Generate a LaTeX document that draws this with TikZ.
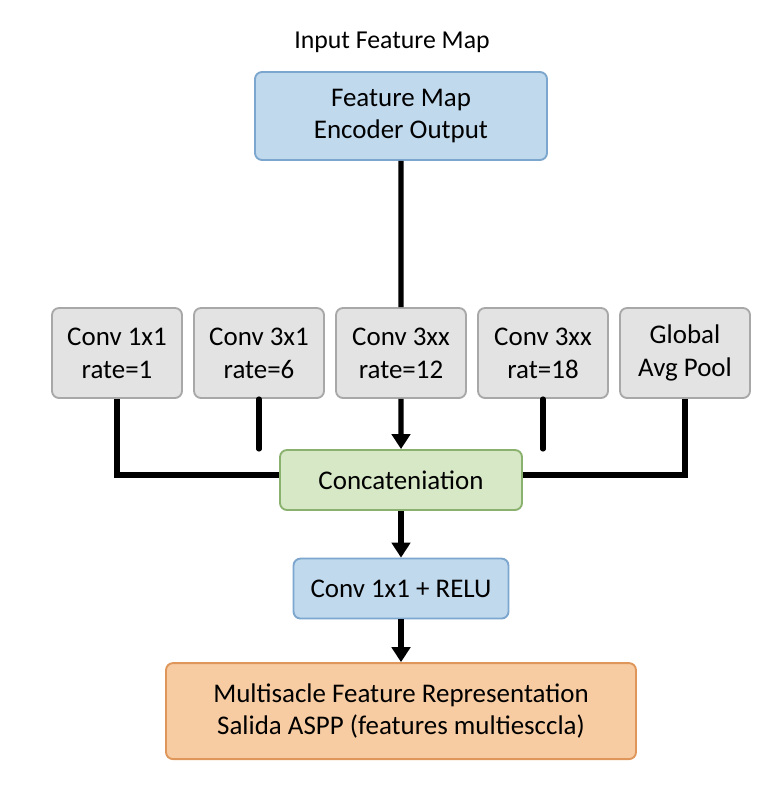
\documentclass[tikz,border=0pt]{standalone}
\usepackage{fontspec}
\setmainfont{Carlito}
\usepackage{tikz}
\usetikzlibrary{positioning, calc, arrows.meta}

\definecolor{mapfill}{RGB}{192,217,237}
\definecolor{mapdraw}{RGB}{125,166,206}
\definecolor{convfill}{RGB}{227,227,227}
\definecolor{convdraw}{RGB}{168,168,168}
\definecolor{catfill}{RGB}{214,232,198}
\definecolor{catdraw}{RGB}{138,178,110}
\definecolor{outfill}{RGB}{248,204,162}
\definecolor{outdraw}{RGB}{222,150,90}

\begin{document}
\begin{tikzpicture}[
            x=0.03cm, y=-0.03cm,
            node distance=1.4cm and 0.3036cm,
            block/.style = {align=center, inner sep=3pt, text centered, line width=1.6pt,
                    font=\fontsize{23}{28}\selectfont, rectangle, rounded corners=6pt},
            mapnode/.style = {block, draw=mapdraw, fill=mapfill},
            convnode/.style = {block, draw=convdraw, fill=convfill, minimum width=3.9cm, minimum height=2.7cm},
            catnode/.style = {block, draw=catdraw, fill=catfill},
            outnode/.style = {block, draw=outdraw, fill=outfill},
            link/.style = {line width=4.3pt, black},
            flow/.style = {link, -{Triangle[length=0.45cm, width=0.55cm]}}
        ]
        \useasboundingbox (0,0) rectangle (782,787);
        \node (title) at (392,42) [font=\fontsize{22}{26}\selectfont] {Input Feature Map};
        \node (fm)   [mapnode, minimum width=8.76cm, minimum height=2.64cm] at (401,116) {Feature Map\\ Encoder Output};
        \node (c1)   [convnode] at (117,353) {Conv 1x1\\ rate=1};
        \node (c2)   [convnode, right=of c1] {Conv 3x1\\ rate=6};
        \node (c3)   [convnode, right=of c2] {Conv 3xx\\ rate=12};
        \node (c4)   [convnode, right=of c3] {Conv 3xx\\ rat=18};
        \node (c5)   [convnode, right=of c4] {Global\\ Avg Pool};
        \node (cat)  [catnode, minimum width=7.26cm, minimum height=1.8cm] at (401,480) {Concateniation};
        \node (relu) [mapnode, minimum width=6.45cm, minimum height=1.8cm, below=of cat] {Conv 1x1 + RELU};
        \node (out)  [outnode, minimum width=14.1cm, minimum height=2.88cm, below=1.28cm of relu] {Multisacle Feature Representation\\ Salida ASPP (features multiesccla)};

        \coordinate (e2) at (c2.south |- cat.north);
        \coordinate (e4) at (c4.south |- cat.north);

        \draw[link] (fm.south) -- (c3.north);
        \draw[link] (c1.south) |- ([yshift=0.15cm]cat.west);
        \draw[link, line cap=round] (c2.south) -- (e2);
        \draw[flow] (c3.south) -- (cat.north);
        \draw[link, line cap=round] (c4.south) -- (e4);
        \draw[link] (c5.south) |- ([yshift=0.15cm]cat.east);
        \draw[flow] (cat.south) -- (relu.north);
        \draw[flow] (relu.south) -- (out.north);
    \end{tikzpicture}
\end{document}
